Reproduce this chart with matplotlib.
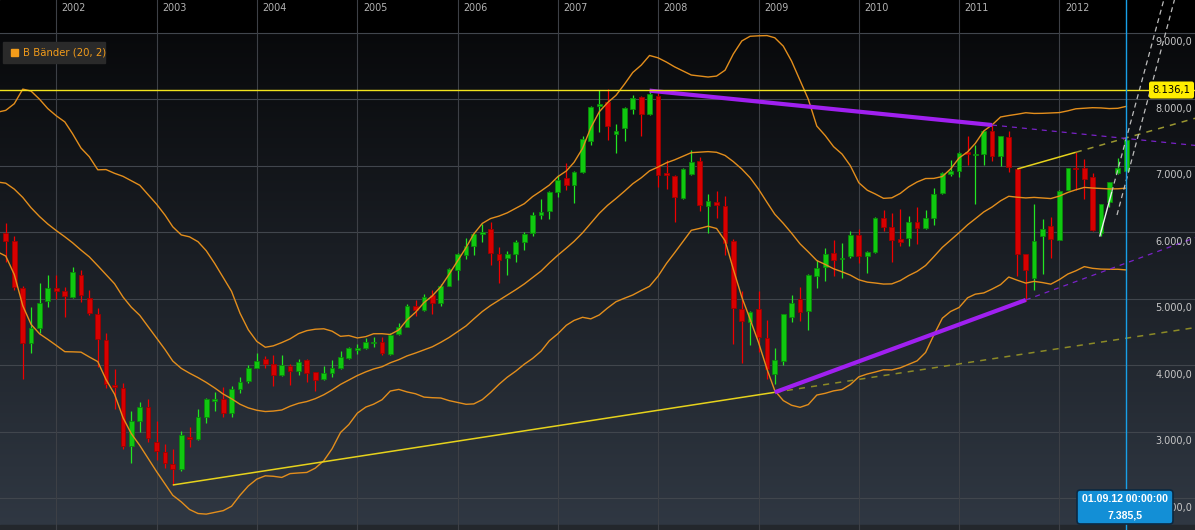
import numpy as np
import pandas as pd
import matplotlib
matplotlib.use('Agg')
import matplotlib.pyplot as plt
import matplotlib.dates as mdates
from matplotlib.patches import FancyBboxPatch, Rectangle

# monthly candles, Jul 2001 .. Sep 2012
open_ = [5985, 5869, 5167, 4330, 4565, 4966, 5162, 5117, 5032, 5352, 5007, 4771,
         4380, 3703, 3663, 2786, 3167, 3367, 2841, 2691, 2515, 2440, 2916, 2896,
         3227, 3468, 3493, 3277, 3643, 3763, 3965, 4091, 4015, 3854, 3990, 3914,
         4076, 3899, 3788, 3889, 3955, 4106, 4227, 4253, 4328, 4343, 4167, 4470,
         4581, 4884, 4833, 5061, 4934, 5197, 5440, 5657, 5798, 5970, 6056, 5667,
         5616, 5677, 5859, 5995, 6263, 6323, 6611, 6818, 6717, 6904, 7369, 7904,
         7955, 7485, 7561, 7859, 8030, 7778, 8056, 6899, 6844, 6516, 6879, 7066,
         6389, 6460, 6402, 5864, 4853, 4652, 4853, 4416, 3872, 4063, 4727, 4994,
         4818, 5346, 5472, 5683, 5597, 5648, 5965, 5648, 5708, 6215, 6083, 5893,
         5908, 6155, 6070, 6210, 6588, 6874, 6925, 7211, 7156, 7176, 7523, 7146,
         7428, 6950, 5667, 5315, 5939, 6090, 5888, 6643, 6970, 6970, 6824, 5989,
         6457, 6884, 6920]
high = [6135, 5944, 5190, 4881, 5232, 5352, 5352, 5172, 5473, 5433, 5132, 4866,
        4480, 3939, 3728, 3312, 3452, 3488, 3167, 2816, 2741, 3016, 3076, 3337,
        3500, 3603, 3678, 3688, 3818, 4000, 4177, 4141, 4152, 4152, 4025, 4091,
        4101, 3905, 3990, 4081, 4217, 4268, 4318, 4409, 4429, 4419, 4480, 4631,
        4914, 4985, 5066, 5136, 5227, 5465, 5682, 5919, 5995, 6121, 6157, 5778,
        5717, 5884, 6000, 6308, 6500, 6626, 6854, 7040, 6915, 7444, 7904, 8141,
        8152, 7621, 7880, 8066, 8050, 8131, 8091, 7081, 6864, 6970, 7232, 7131,
        6576, 6626, 6551, 5900, 5120, 4810, 5110, 4682, 4265, 4775, 5059, 5180,
        5370, 5582, 5759, 5884, 5839, 6025, 6055, 5720, 6226, 6340, 6290, 6346,
        6245, 6381, 6336, 6663, 6900, 7085, 7205, 7448, 7312, 7530, 7614, 7455,
        7528, 6955, 5680, 6432, 6195, 6230, 6633, 6970, 7211, 7096, 6894, 6432,
        6760, 7111, 7420]
low = [5560, 5132, 3793, 4180, 4480, 4881, 4991, 4721, 5017, 4946, 4756, 3979,
       3653, 3342, 2736, 2525, 3001, 2851, 2575, 2450, 2199, 2415, 2776, 2880,
       3137, 3317, 3217, 3227, 3588, 3740, 3955, 3955, 3687, 3840, 3702, 3854,
       3748, 3611, 3775, 3828, 3950, 4100, 4167, 4245, 4268, 4157, 4150, 4455,
       4570, 4737, 4813, 4773, 4884, 5190, 5278, 5591, 5657, 5859, 5505, 5238,
       5364, 5551, 5732, 5945, 6197, 6197, 6535, 6637, 6435, 6890, 7308, 7510,
       7384, 7192, 7374, 7773, 7444, 7770, 6677, 6652, 6157, 6500, 6854, 6313,
       5995, 6222, 5663, 4315, 4028, 4300, 4204, 3787, 3720, 3998, 4657, 4667,
       4526, 5160, 5261, 5346, 5311, 5613, 5537, 5381, 5683, 6022, 5550, 5793,
       5793, 5818, 6044, 6110, 6580, 6849, 6834, 7010, 6422, 7010, 7075, 7000,
       6909, 5335, 4973, 5134, 5375, 5617, 5880, 6630, 6643, 6507, 6019, 5950,
       6381, 6874, 6915]
close = [5875, 5172, 4330, 4565, 4941, 5167, 5117, 5047, 5403, 5057, 4781, 4400,
         3713, 3678, 2786, 3162, 3367, 2911, 2711, 2525, 2440, 2951, 2896, 3227,
         3493, 3493, 3277, 3643, 3753, 3965, 4070, 4015, 3854, 4000, 3914, 4051,
         3889, 3778, 3889, 3955, 4126, 4253, 4253, 4343, 4353, 4177, 4460, 4581,
         4884, 4833, 5025, 4934, 5197, 5450, 5667, 5788, 5980, 6005, 5692, 5576,
         5677, 5854, 5980, 6263, 6308, 6611, 6788, 6717, 6904, 7409, 7889, 7934,
         7596, 7525, 7874, 8025, 7773, 8076, 6854, 6864, 6536, 6945, 7056, 6409,
         6475, 6414, 5834, 4868, 4667, 4803, 4426, 3938, 4073, 4768, 4934, 4803,
         5361, 5462, 5673, 5582, 5613, 5955, 5648, 5708, 6220, 6085, 5886, 5858,
         6155, 6070, 6210, 6582, 6884, 6915, 7196, 7176, 7176, 7528, 7146, 7448,
         6985, 5667, 5436, 5868, 6054, 5903, 6623, 6960, 6945, 6794, 6029, 6432,
         6759, 6960, 7385.5]

# closes Nov 1999 .. Jun 2001, only needed to feed the 20-month bands
pre_close = [6219.5, 6958.1, 6835.6, 7644.6, 7599.4, 7414.7, 7109.7, 6898.2,
             7189.9, 7279.0, 6798.1, 7077.4, 6372.3, 6433.6, 6795.1, 6208.2,
             5829.9, 6264.5, 6123.6, 6058.4]

# drawn trend lines: (date, value) anchors
purple_top = [('2007-12-01', 8130), ('2011-05-01', 7613)]
purple_bottom = [('2009-03-01', 3593), ('2011-09-01', 4982)]
yellow_long = [('2003-03-01', 2199), ('2009-03-01', 3593)]
yellow_short = [('2011-08-01', 6952), ('2012-03-01', 7203)]
white_a = [('2012-05-27', 5935), ('2012-07-10', 6606)]
white_b = [('2012-07-29', 6260), ('2012-09-01', 6786)]
resistance = 8136.1
last_price = 7385.5
y_ticks = [2000, 3000, 4000, 5000, 6000, 7000, 8000, 9000]
years = list(range(2002, 2013))

W, H = 1195, 530
months = pd.date_range('2001-07-01', periods=len(close), freq='MS')
pre_months = pd.date_range('1999-11-01', periods=len(pre_close), freq='MS')

# pixel <-> data mapping
ppd = 0.27465
ppv = 0.066486
x_2002 = mdates.date2num(pd.Timestamp('2002-01-01'))
xmin = x_2002 - 56.3 / ppd
xmax = xmin + W / ppd
vtop = 8000 + 99.3 / ppv
vbot = 8000 - (H - 99.3) / ppv


def px2d(px):
    return xmin + px / ppd


def py2v(py):
    return vtop - py / ppv


def money(v):
    s = f'{v:,.1f}'
    return s.replace(',', ' ').replace('.', ',').replace(' ', '.')


fig = plt.figure(figsize=(W / 100, H / 100), dpi=100)
ax = fig.add_axes([0, 0, 1, 1])
ax.set_xlim(xmin, xmax)
ax.set_ylim(vbot, vtop)
ax.axis('off')

# background gradient
grad = np.linspace(0, 1, 256).reshape(-1, 1)
top_c = np.array([0x08, 0x09, 0x0b]) / 255
bot_c = np.array([0x30, 0x38, 0x43]) / 255
img = top_c + (bot_c - top_c) * grad[..., None]
ax.imshow(img, extent=[xmin, xmax, vbot, py2v(32)], aspect='auto', zorder=0)
ax.add_patch(Rectangle((xmin, py2v(32)), xmax - xmin, vtop - py2v(32),
                       color='black', zorder=0.5))
ax.add_patch(Rectangle((xmin, vbot), xmax - xmin, py2v(525) - vbot,
                       color='#23272c', zorder=0.6))

# grid
for v in y_ticks:
    ax.axhline(v, color='#41464d', lw=0.8, zorder=1)
    ax.text(px2d(1192.5), v - 9.3 / ppv, money(v), color='#c8c8c8',
            fontsize=7.0, ha='right', va='center', zorder=6)
for yr in years:
    xd = mdates.date2num(pd.Timestamp(f'{yr}-01-01'))
    ax.axvline(xd, color='#3d4046', lw=0.8, zorder=1)
    ax.text(xd + 5.5 / ppd, py2v(8), str(yr), color='#b4b4b4', fontsize=6.9,
            ha='left', va='center', zorder=6)

# bollinger bands (20, 2)
all_close = pd.Series(pre_close + close, index=pre_months.append(months))
mid = all_close.rolling(20).mean()
sd = all_close.rolling(20).std(ddof=0)
band_idx = all_close.index >= pd.Timestamp('2001-06-01')
bx = mdates.date2num(all_close.index[band_idx])
for s in (mid, mid + 2 * sd, mid - 2 * sd):
    ax.plot(bx, s[band_idx].values, color='#e38e1c', lw=1.0, zorder=4)

# candles
xd = mdates.date2num(months)
o = np.array(open_, float)
c = np.array(close, float)
up = c >= o
wick_col = np.where(up, '#22e622', '#f00000')
body_col = np.where(up, '#10c810', '#d80000')
edge_col = np.where(up, '#0a8a0a', '#a00000')
ax.vlines(xd, low, high, colors=wick_col, lw=0.9, zorder=2)
bottom = np.minimum(o, c)
height = np.maximum(np.abs(c - o), 18)
ax.bar(xd, height, bottom=bottom, width=17, color=body_col,
       edgecolor=edge_col, linewidth=0.6, zorder=3)


# trend lines
def trend(pts, col, lw, ext_col, ext_lw, dash=(4, 4), solid=True):
    x = mdates.date2num([pd.Timestamp(p[0]) for p in pts])
    y = [p[1] for p in pts]
    k = (y[1] - y[0]) / (x[1] - x[0])
    x_end = xmax
    if y[1] + k * (xmax - x[1]) > vtop:
        x_end = x[1] + (vtop - y[1]) / k
    if solid:
        ax.plot(x, y, color=col, lw=lw, zorder=5, solid_capstyle='butt')
        ax.plot([x[1], x_end], [y[1], y[1] + k * (x_end - x[1])],
                color=ext_col, lw=ext_lw, ls=(0, dash), zorder=5)
    else:
        ax.plot([x[0], x_end], [y[0], y[0] + k * (x_end - x[0])],
                color=ext_col, lw=ext_lw, ls=(0, dash), zorder=5)


trend(yellow_long, '#e6d21c', 1.1, '#8c8a26', 1.1)
trend(yellow_short, '#e6d21c', 1.1, '#9a9630', 1.1)
trend(purple_top, '#a020f0', 3.0, '#7a22c8', 0.9)
trend(purple_bottom, '#a020f0', 3.0, '#7a22c8', 0.9)
trend(white_a, '#f0f0f0', 1.0, '#bdbdbd', 0.9, dash=(4, 3))
trend(white_b, None, 0, '#bdbdbd', 0.9, dash=(4, 3), solid=False)

# resistance line + label
ax.axhline(resistance, color='#f2e41e', lw=1.0, zorder=5)
ax.add_patch(FancyBboxPatch((px2d(1149), py2v(98.5)), px2d(1194) - px2d(1149),
                            py2v(81.5) - py2v(98.5),
                            boxstyle='round,pad=0,rounding_size=8',
                            fc='#ffee00', ec='none', zorder=7,
                            mutation_aspect=ppd / ppv))
ax.text(px2d(1171), resistance, money(resistance), color='black',
        fontsize=7.2, ha='center', va='center', zorder=8)

# cursor
xc = mdates.date2num(months[-1])
ax.axvline(xc, color='#18a0e8', lw=1.0, zorder=6)
ax.add_patch(FancyBboxPatch((px2d(1077), py2v(524)), px2d(1173) - px2d(1077),
                            py2v(490) - py2v(524),
                            boxstyle='round,pad=0,rounding_size=12',
                            fc='#138fd6', ec='#0c2840', lw=1.2, zorder=7,
                            mutation_aspect=ppd / ppv))
ax.text(px2d(1125), py2v(499.5), months[-1].strftime('%d.%m.%y') + ' 00:00:00',
        color='white', fontsize=7.6, fontweight='bold', family='Liberation Sans',
        ha='center', va='center', zorder=8)
ax.text(px2d(1125), py2v(515.5), money(last_price),
        color='white', fontsize=7.6, fontweight='bold', family='Liberation Sans',
        ha='center', va='center', zorder=8)

# legend
ax.add_patch(Rectangle((px2d(3), py2v(63)), px2d(105) - px2d(3),
                       py2v(42) - py2v(63), color='#2a2a2a', zorder=7))
ax.add_patch(Rectangle((px2d(11), py2v(56)), px2d(18) - px2d(11),
                       py2v(49) - py2v(56), color='#f39c1a', zorder=8))
ax.text(px2d(23), py2v(52.5), 'B Bänder (20, 2)', color='#f39c1a',
        fontsize=7.3, ha='left', va='center', zorder=8)

fig.savefig('out.png', dpi=100)
